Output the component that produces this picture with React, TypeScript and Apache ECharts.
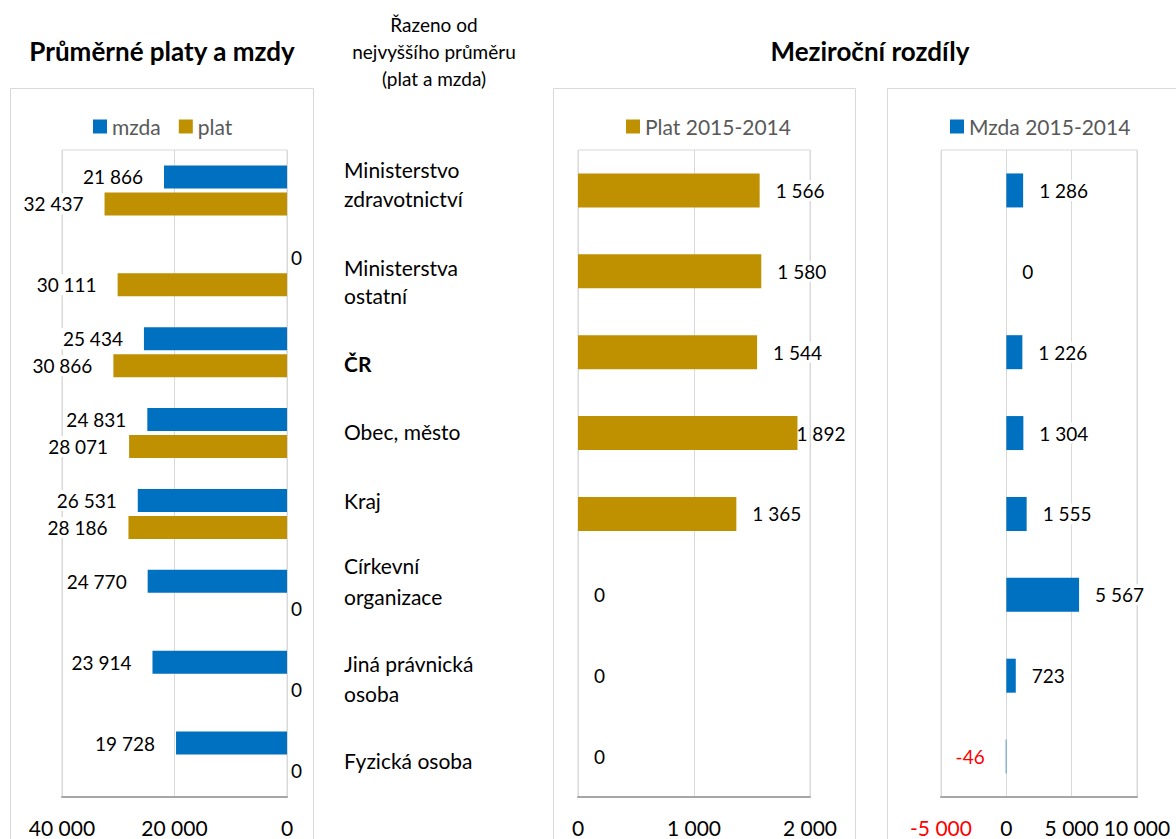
import React, { useEffect, useRef } from 'react';
import * as echarts from 'echarts';

// Categories, sorted from the highest average (plat and mzda)
const categoryLines: string[][] = [
  ['Ministerstvo', 'zdravotnictví'],
  ['Ministerstva', 'ostatní'],
  ['ČR'],
  ['Obec, město'],
  ['Kraj'],
  ['Církevní', 'organizace'],
  ['Jiná právnická', 'osoba'],
  ['Fyzická osoba'],
];
const categories = categoryLines.map((l) => l.join(' '));

// Average pay (CZK)
const mzda = [21866, 0, 25434, 24831, 26531, 24770, 23914, 19728];
const plat = [32437, 30111, 30866, 28071, 28186, 0, 0, 0];

// Year-on-year differences 2015-2014 (CZK)
const platDiff = [1566, 1580, 1544, 1892, 1365, 0, 0, 0];
const mzdaDiff = [1286, 0, 1226, 1304, 1555, 5567, 723, -46];

// Axis ticks
const avgTicks = [0, 20000, 40000];
const platDiffTicks = [0, 1000, 2000];
const mzdaDiffTicks = [-5000, 0, 5000, 10000];

const BLUE = '#0070C0';
const GOLD = '#BF9000';
const GRID_LINE = '#d9d9d9';
const FONT = 'Lato, "Open Sans", sans-serif';

const fmt = (v: number) =>
  (v < 0 ? '-' : '') + Math.abs(v).toString().replace(/\B(?=(\d{3})+(?!\d))/g, ' ');

const tickRange = (ticks: number[]) => ({
  min: ticks[0],
  max: ticks[ticks.length - 1],
  interval: ticks[1] - ticks[0],
});

const labelBase = {
  show: true,
  color: '#000',
  fontFamily: FONT,
  fontSize: 19,
  backgroundColor: '#fff',
  padding: [1, 2],
  formatter: (p: any) => fmt(p.value),
};

export default function App() {
  const ref = useRef<HTMLDivElement>(null);

  useEffect(() => {
    if (!ref.current) return;
    const chart = echarts.init(ref.current, undefined, { renderer: 'svg' });

    const valueAxis = (gridIndex: number, ticks: number[], inverse = false) => ({
      type: 'value',
      gridIndex,
      inverse,
      ...tickRange(ticks),
      axisLine: { show: true, onZero: false, lineStyle: { color: '#a6a6a6', width: 2 } },
      axisTick: { show: false },
      splitLine: { show: true, lineStyle: { color: GRID_LINE, width: 1 } },
      axisLabel: {
        margin: 20,
        fontFamily: FONT,
        fontSize: 21,
        color: '#000',
        hideOverlap: false,
        formatter: (v: number) => (v < 0 ? `{neg|${fmt(v)}}` : fmt(v)),
        rich: { neg: { color: '#ff0000', fontFamily: FONT, fontSize: 21 } },
      },
    });

    const categoryAxis = (gridIndex: number) => ({
      type: 'category',
      gridIndex,
      data: categories,
      inverse: true,
      axisLine: { show: false },
      axisTick: { show: false },
      axisLabel: { show: false },
      splitLine: { show: false },
    });

    const grid = (left: number, width: number) => ({
      left,
      width,
      top: 150,
      height: 647,
      show: true,
      borderColor: GRID_LINE,
      borderWidth: 1,
    });

    const legend = (left: number, data: string[]) => ({
      left,
      top: 116,
      padding: 0,
      itemWidth: 14,
      itemHeight: 14,
      itemGap: 18,
      icon: 'rect',
      data,
      textStyle: { color: '#595959', fontFamily: FONT, fontSize: 21 },
    });

    const textEl = (x: number, y: number, text: string, fontSize: number, bold = false) => ({
      type: 'text',
      x,
      y,
      style: {
        text,
        fill: '#000',
        font: `${bold ? 'bold ' : ''}${fontSize}px ${FONT}`,
        textAlign: 'center',
        textVerticalAlign: 'middle',
      },
    });

    // Category labels between the panels
    const catY = [[169, 198], [267, 295], [363], [431], [500], [565, 596], [663, 693], [760]];
    const catTexts: any[] = [];
    categoryLines.forEach((lines, i) => {
      lines.forEach((line, j) => {
        catTexts.push({
          type: 'text',
          x: 344,
          y: catY[i][j],
          style: {
            text: line,
            fill: '#000',
            font: `${line === 'ČR' ? 'bold ' : ''}21px ${FONT}`,
            textAlign: 'left',
            textVerticalAlign: 'middle',
          },
        });
      });
    });

    const frame = (x: number, w: number) => ({
      type: 'rect',
      shape: { x, y: 88.5, width: w, height: 800 },
      style: { fill: 'none', stroke: GRID_LINE, lineWidth: 1 },
      silent: true,
    });

    chart.setOption({
      animation: false,
      backgroundColor: '#fff',
      grid: [grid(62, 225), grid(578, 232), grid(941, 196)],
      xAxis: [
        valueAxis(0, avgTicks, true),
        valueAxis(1, platDiffTicks),
        valueAxis(2, mzdaDiffTicks),
      ],
      yAxis: [categoryAxis(0), categoryAxis(1), categoryAxis(2)],
      legend: [
        legend(93, ['mzda', 'plat']),
        legend(626, ['Plat 2015-2014']),
        legend(950, ['Mzda 2015-2014']),
      ],
      series: [
        {
          name: 'mzda',
          type: 'bar',
          xAxisIndex: 0,
          yAxisIndex: 0,
          barWidth: 23,
          barGap: '17%',
          itemStyle: { color: BLUE },
          label: { ...labelBase, position: 'left', distance: 19 },
          data: mzda.map((v) => (v === 0 ? { value: v, label: { position: 'right', distance: 2, backgroundColor: 'transparent' } } : v)),
        },
        {
          name: 'plat',
          type: 'bar',
          xAxisIndex: 0,
          yAxisIndex: 0,
          barWidth: 23,
          barGap: '17%',
          itemStyle: { color: GOLD },
          label: { ...labelBase, position: 'left', distance: 19 },
          data: plat.map((v) => (v === 0 ? { value: v, label: { position: 'right', distance: 2, backgroundColor: 'transparent' } } : v)),
        },
        {
          name: 'Plat 2015-2014',
          type: 'bar',
          xAxisIndex: 1,
          yAxisIndex: 1,
          barWidth: 34,
          itemStyle: { color: GOLD },
          label: { ...labelBase, position: 'right', distance: 14 },
          data: platDiff.map((v) => (v === Math.max(...platDiff) ? { value: v, label: { distance: -3, backgroundColor: 'transparent' } } : v)),
        },
        {
          name: 'Mzda 2015-2014',
          type: 'bar',
          xAxisIndex: 2,
          yAxisIndex: 2,
          barWidth: 34,
          itemStyle: { color: BLUE },
          label: { ...labelBase, position: 'right', distance: 14 },
          data: mzdaDiff.map((v) => (v < 0 ? { value: v, label: { position: 'left', distance: 19, color: '#ff0000' } } : v)),
        },
      ],
      graphic: [
        frame(10.5, 303),
        frame(553.5, 302),
        frame(887.5, 320),
        textEl(162, 51, 'Průměrné platy a mzdy', 26, true),
        textEl(870, 51, 'Meziroční rozdíly', 26, true),
        textEl(434, 24, 'Řazeno od', 19),
        textEl(434, 51, 'nejvyššího průměru', 19),
        textEl(434, 78, '(plat a mzda)', 19),
        ...catTexts,
      ],
    });

    return () => chart.dispose();
  }, []);

  return (
    <div
      ref={ref}
      style={{ position: 'absolute', left: 0, top: 0, width: 1176, height: 839 }}
    />
  );
}
